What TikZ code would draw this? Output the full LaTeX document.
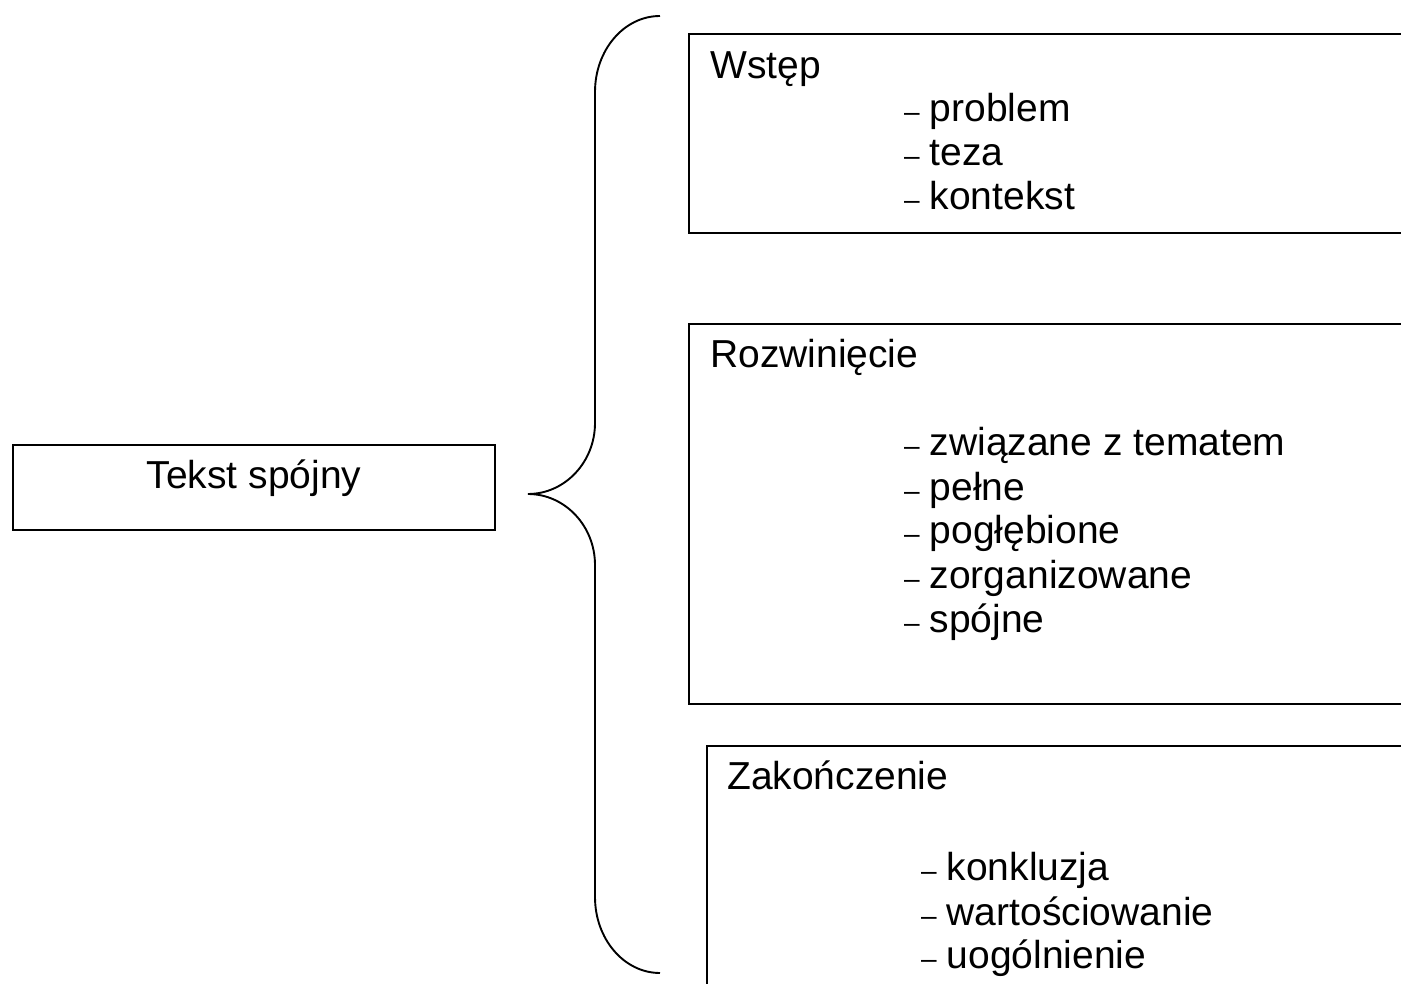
\documentclass[tikz,border=0pt]{standalone}
\usepackage{fontspec}
\setmainfont{Liberation Sans}
\newcommand\itemdash{{\fontsize{28}{28}\selectfont –}}
\begin{document}
\begin{tikzpicture}[x=1pt,y=-1pt,
  box/.style={draw, line width=1.6pt, inner sep=0pt, anchor=north west, rectangle},
  lbl/.style={inner sep=0pt, anchor=base west, font=\fontsize{39}{44}\selectfont},
  brace/.style={draw, line width=1.9pt}
]
\useasboundingbox (0,0) rectangle (1401,984);
\clip (0,0) rectangle (1401,984);

% left box
\node[box, minimum width=482pt, minimum height=85pt] (tbox) at (12,444) {};
\node[lbl, anchor=base] (tekst) at (254,488) {Tekst spójny};

% right boxes
\node[box, minimum width=800pt, minimum height=199pt] (b1) at (688,33) {};
\node[box, minimum width=800pt, minimum height=380pt] (b2) at (688,323) {};
\node[box, minimum width=800pt, minimum height=300pt] (b3) at (706,745) {};

% box 1
\node[lbl] (w) at (710,79) {Wstęp};
\node[lbl] (w1) at (904,122) {\itemdash\hspace{10pt}problem};
\node[lbl] (w2) at (904,166) {\itemdash\hspace{10pt}teza};
\node[lbl] (w3) at (904,210) {\itemdash\hspace{10pt}kontekst};

% box 2
\node[lbl] (r) at (710,367) {Rozwinięcie};
\node[lbl] (r1) at (904,455) {\itemdash\hspace{10pt}związane z tematem};
\node[lbl] (r2) at (904,500) {\itemdash\hspace{10pt}pełne};
\node[lbl] (r3) at (904,543) {\itemdash\hspace{10pt}pogłębione};
\node[lbl] (r4) at (904,588) {\itemdash\hspace{10pt}zorganizowane};
\node[lbl] (r5) at (904,632) {\itemdash\hspace{10pt}spójne};

% box 3
\node[lbl] (z) at (727,789) {Zakończenie};
\node[lbl] (z1) at (921,880) {\itemdash\hspace{10pt}konkluzja};
\node[lbl] (z2) at (921,925) {\itemdash\hspace{10pt}wartościowanie};
\node[lbl] (z3) at (921,968) {\itemdash\hspace{10pt}uogólnienie};

% brace
\coordinate (btop) at (660,16);
\coordinate (bcusp) at (528,494);
\coordinate (bbot) at (660,973);
\draw[brace] (btop) .. controls (624,16) and (595,50) .. (595,92)
  -- (595,423) .. controls (595,462) and (565,494) .. (bcusp)
  .. controls (565,494) and (595,526) .. (595,565)
  -- (595,897) .. controls (595,939) and (624,973) .. (bbot);
\end{tikzpicture}
\end{document}
